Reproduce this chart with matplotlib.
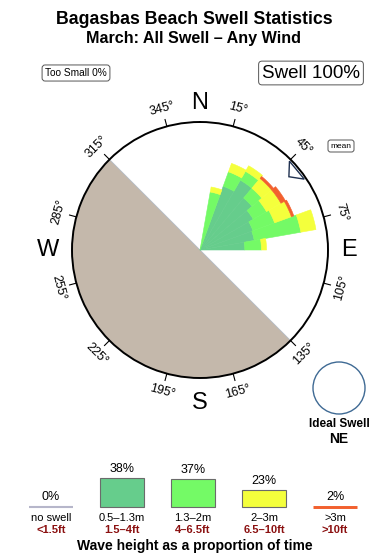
import numpy as np
import matplotlib
matplotlib.use('Agg')
import matplotlib.pyplot as plt
from matplotlib.patches import Circle

plt.rcParams['font.family'] = ['Liberation Sans', 'DejaVu Sans']

# ---------------- data ----------------
dir_centres = [15, 25, 35, 45, 55, 65, 75, 85]      # direction bins (deg, from)
bin_width = 10
# radial length of each height class per direction bin (fraction of rose radius)
h_05_13 = [0.00, 0.53, 0.63, 0.53, 0.48, 0.44, 0.43, 0.35]
h_13_2 = [0.46, 0.12, 0.08, 0.10, 0.12, 0.18, 0.37, 0.13]
h_2_3 = [0.04, 0.07, 0.05, 0.10, 0.13, 0.14, 0.12, 0.04]
h_gt3 = [0.00, 0.00, 0.00, 0.02, 0.04, 0.02, 0.00, 0.00]

class_m = ['no swell', '0.5–1.3m', '1.3–2m', '2–3m', '>3m']
class_ft = ['<1.5ft', '1.5–4ft', '4–6.5ft', '6.5–10ft', '>10ft']
class_pct = [0, 38, 37, 23, 2]
class_colors = ['#b6b6ca', '#66cd8c', '#74fa66', '#f4ff3c', '#f2602e']

land_from, land_to = 135, 315
mean_dir = 50.5
deg_labels = [15, 45, 75, 105, 135, 165, 195, 225, 255, 285, 315, 345]
cardinals = ['N', 'E', 'S', 'W']
cardinal_deg = [0, 90, 180, 270]
too_small_pct = 0
swell_pct = 100
ideal_swell = 'NE'

title = 'Bagasbas Beach Swell Statistics'
subtitle = 'March: All Swell – Any Wind'

# ---------------- figure ----------------
W, H = 390, 560
fig = plt.figure(figsize=(W / 100, H / 100), dpi=100)
fig.patch.set_facecolor('white')

# overlay axes in pixel units
lax = fig.add_axes([0, 0, 1, 1])
lax.set_xlim(0, W)
lax.set_ylim(H, 0)
lax.axis('off')

# rose axes
cx, cy, R = 200, 250, 128
ax = fig.add_axes([(cx - R) / W, 1 - (cy + R) / H, 2 * R / W, 2 * R / H],
                  projection='polar')
ax.set_theta_zero_location('N')
ax.set_theta_direction(-1)
ax.set_ylim(0, 1)
ax.set_xticks([])
ax.set_yticks([])
ax.grid(False)
ax.spines['polar'].set_linewidth(1.4)
ax.spines['polar'].set_color('black')

# land sector
ax.bar(np.deg2rad((land_from + land_to) / 2), 1.0,
       width=np.deg2rad(land_to - land_from), color='#c4b8ab',
       edgecolor='#b4bcc6', lw=0.6, zorder=1)

# stacked bars
theta = np.deg2rad(dir_centres)
bottom = np.zeros(len(dir_centres))
for vals, col in zip([h_05_13, h_13_2, h_2_3, h_gt3], class_colors[1:]):
    lws = [0.4 if v > 0 else 0.0 for v in vals]
    ax.bar(theta, vals, width=np.deg2rad(bin_width), bottom=bottom,
           color=col, edgecolor=col, linewidth=lws, zorder=2)
    bottom = bottom + np.array(vals)

# degree ticks & labels
for d in deg_labels:
    t = np.deg2rad(d)
    ax.plot([t, t], [1.0, 1.055], color='black', lw=0.8, clip_on=False, zorder=3)
    rot = -d
    while rot <= -90:
        rot += 180
    while rot > 90:
        rot -= 180
    ax.text(t, 1.145, f'{d}°', rotation=rot, rotation_mode='anchor',
            ha='center', va='center', fontsize=9, clip_on=False)

card_r = [1.145, 1.165, 1.195, 1.19]
for lab, d, rr in zip(cardinals, cardinal_deg, card_r):
    ax.text(np.deg2rad(d), rr, lab, ha='center', va='center',
            fontsize=17, clip_on=False)

# mean direction arrow head
ax.fill(np.deg2rad([mean_dir - 5.3, mean_dir, mean_dir + 5.3]),
        [0.985, 0.90, 0.985], facecolor='white', edgecolor='#1f3050',
        lw=1.0, zorder=5, clip_on=False)

# ---------------- texts ----------------
lax.text(194, 19, title, ha='center', va='center', fontsize=12.8, fontweight='bold')
lax.text(194, 38, subtitle, ha='center', va='center', fontsize=11.6, fontweight='bold')
lax.text(76, 73, f'Too Small {too_small_pct}%', ha='center', va='center', fontsize=7.3,
         bbox=dict(boxstyle='round,pad=0.3', fc='white', ec='#555555', lw=0.7))
lax.text(311, 73, f'Swell {swell_pct}%', ha='center', va='center', fontsize=13.5,
         bbox=dict(boxstyle='round,pad=0.18', fc='white', ec='#555555', lw=0.7))
lax.text(341, 146, 'mean', ha='center', va='center', fontsize=6,
         bbox=dict(boxstyle='round,pad=0.3', fc='white', ec='#555555', lw=0.7))

# ideal swell
lax.add_patch(Circle((339, 388), 26, fc='white', ec='#3f6a94', lw=1.0))
lax.text(339, 424, 'Ideal Swell', ha='center', va='center', fontsize=8.5, fontweight='bold')
lax.text(339, 439, ideal_swell, ha='center', va='center', fontsize=10, fontweight='bold')

# ---------------- legend ----------------
leg_x = [51, 122, 193, 264, 335]
leg_w = 44
base = 507
scale = 0.76
for i, (p, col) in enumerate(zip(class_pct, class_colors)):
    hgt = p * scale
    if hgt >= 5:
        lax.bar(leg_x[i], -hgt, bottom=base, width=leg_w, color=col,
                edgecolor='#6b6b6b', lw=0.8)
        top = base - hgt
    else:
        lax.hlines(base - 0.5, leg_x[i] - leg_w / 2, leg_x[i] + leg_w / 2,
                   color=col if i else '#b6b6ca', lw=max(1.5, hgt + 0.6))
        top = base - 1
    lax.text(leg_x[i], top - 9, f'{p}%', ha='center', va='center', fontsize=9)
    lax.text(leg_x[i], 518, class_m[i], ha='center', va='center', fontsize=8)
    lax.text(leg_x[i], 530, class_ft[i], ha='center', va='center', fontsize=8,
             color='#8b1010', fontweight='bold')
lax.text(195, 546, 'Wave height as a proportion of time', ha='center', va='center',
         fontsize=10, fontweight='bold')

fig.savefig('out.png', dpi=100, facecolor='white')
